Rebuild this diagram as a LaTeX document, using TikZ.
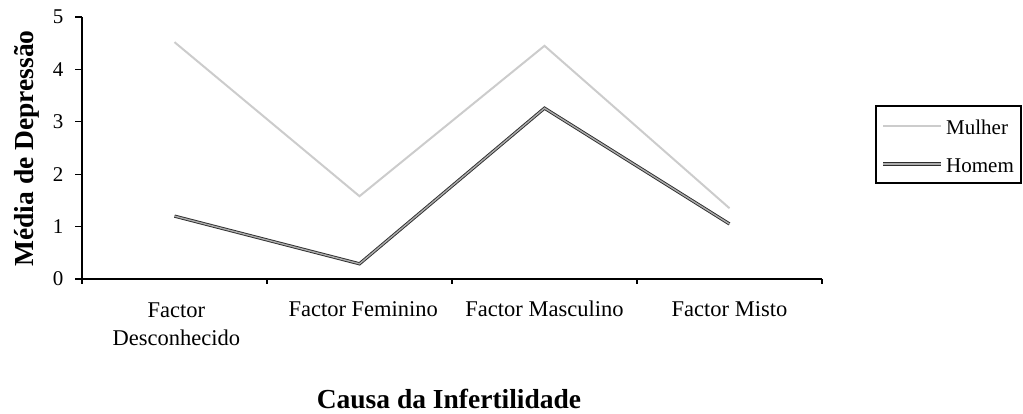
\documentclass[tikz,border=0pt]{standalone}
\usepackage{fontspec}
\setmainfont{Liberation Serif}
\usetikzlibrary{calc}
\tikzset{>=latex,
  eixo/.style = {line width=1.3pt},
  mulher/.style = {draw=gray!40, line width=2pt},
  homem/.style = {draw=gray!35!black, double=gray!65,
    double distance=1.4pt, line width=0.9pt},
  rotulo/.style = {font=\fontsize{21}{24}\selectfont, inner sep=0pt},
  categ/.style = {font=\fontsize{22.5}{28}\selectfont, inner sep=0pt, align=center},
  titulo/.style = {font=\fontsize{27.5}{30}\selectfont\bfseries, inner sep=0pt}}

\begin{document}
\begin{tikzpicture}[x=1pt,y=1pt]
  \useasboundingbox (0,0) rectangle (1023,414);
  \begin{scope}[shift={(82,135)}, x=185pt, y=52.4pt]
    \draw[eixo] (0,5) -- (0,0) -- (4,0);
    \foreach \v in {0,...,5}
      \draw[eixo] (0,\v) -- ++(-7pt,0)
        node[rotulo, anchor=east, xshift=-11pt] (y\v) {\v};
    \foreach \i in {0,...,4}
      \draw[eixo] (\i,0) -- ++(0,-5pt);
    % medias
    \draw[mulher] (0.5,4.52) -- (1.5,1.58) -- (2.5,4.45) -- (3.5,1.35);
    \draw[homem] (0.5,1.2) -- (1.5,0.29) -- (2.5,3.26) -- (3.5,1.05);
    \node[categ, anchor=base] (desc) at (0.51,-1.26) {Factor\\Desconhecido};
    \node[categ, anchor=base] (fem) at (1.52,-0.725) {Factor Feminino};
    \node[categ, anchor=base] (masc) at (2.5,-0.725) {Factor Masculino};
    \node[categ, anchor=base] (misto) at (3.5,-0.725) {Factor Misto};
  \end{scope}
  \node[titulo, rotate=90, anchor=base] (ytit) at (33,265.5) {Média de Depressão};
  \node[titulo, anchor=base] (xtit) at (449,5) {Causa da Infertilidade};
  % legenda
  \draw[line width=1.2pt] (876,231) rectangle (1021,308);
  \draw[mulher] (883,288) -- (941,288);
  \node[rotulo, anchor=base west] (lm) at (946,279) {Mulher};
  \draw[homem] (883,250) -- (941,250);
  \node[rotulo, anchor=base west] (lh) at (946,241) {Homem};
\end{tikzpicture}
\end{document}
